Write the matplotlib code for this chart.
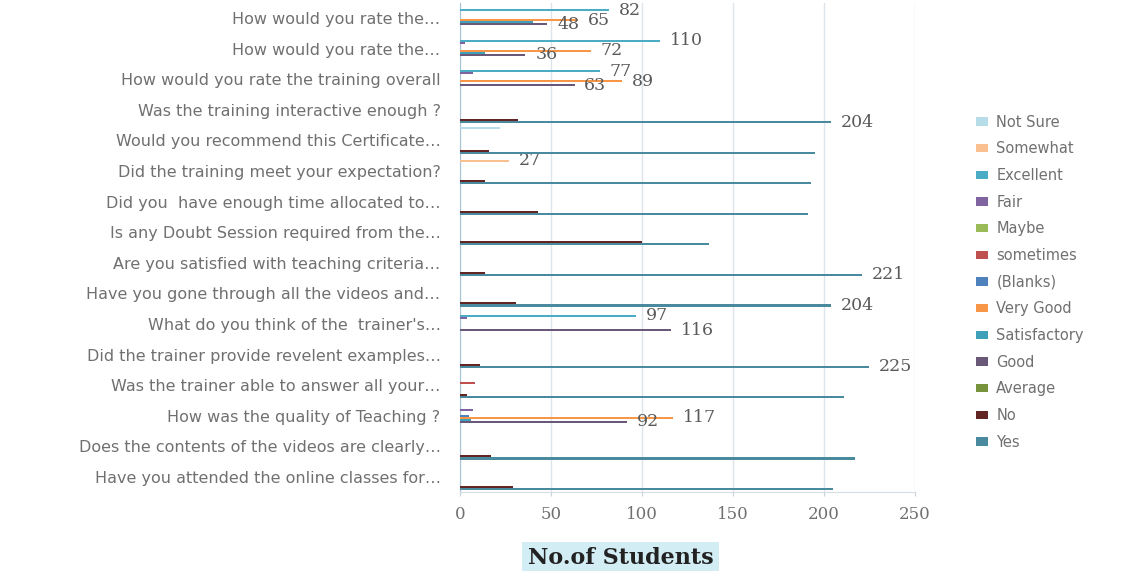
import matplotlib.pyplot as plt
import numpy as np

# questions, top to bottom as in the survey chart
questions = [
    "How would you rate the\u2026",
    "How would you rate the\u2026",
    "How would you rate the training overall",
    "Was the training interactive enough ?",
    "Would you recommend this Certificate\u2026",
    "Did the training meet your expectation?",
    "Did you  have enough time allocated to\u2026",
    "Is any Doubt Session required from the\u2026",
    "Are you satisfied with teaching criteria\u2026",
    "Have you gone through all the videos and\u2026",
    "What do you think of the  trainer's\u2026",
    "Did the trainer provide revelent examples\u2026",
    "Was the trainer able to answer all your\u2026",
    "How was the quality of Teaching ?",
    "Does the contents of the videos are clearly\u2026",
    "Have you attended the online classes for\u2026",
]

# answer counts per series (same order as questions)
not_sure     = [0, 0, 0, 0, 22, 0, 0, 0, 0, 0, 0, 0, 0, 0, 0, 0]
somewhat     = [0, 0, 0, 0, 0, 27, 0, 0, 0, 0, 0, 0, 0, 0, 0, 0]
excellent    = [82, 110, 77, 0, 0, 0, 0, 0, 0, 0, 97, 0, 0, 0, 0, 0]
fair         = [0, 3, 7, 0, 0, 0, 0, 0, 0, 0, 4, 0, 0, 7, 0, 0]
maybe        = [0, 0, 0, 0, 0, 0, 0, 0, 0, 0, 0, 0, 0, 0, 0, 0]
sometimes    = [0, 0, 0, 0, 0, 0, 0, 0, 0, 0, 0, 0, 8, 0, 0, 0]
blanks       = [0, 0, 0, 0, 0, 0, 0, 0, 0, 0, 0, 0, 0, 5, 0, 0]
very_good    = [65, 72, 89, 0, 0, 0, 0, 0, 0, 0, 0, 0, 0, 117, 0, 0]
satisfactory = [40, 14, 0, 0, 0, 0, 0, 0, 0, 0, 0, 0, 0, 6, 0, 0]
good         = [48, 36, 63, 0, 0, 0, 0, 0, 0, 0, 116, 0, 0, 92, 0, 0]
average      = [0, 0, 0, 0, 0, 0, 0, 0, 0, 0, 0, 0, 0, 0, 0, 0]
no           = [0, 0, 0, 32, 16, 14, 43, 100, 14, 31, 0, 11, 4, 0, 17, 29]
yes          = [0, 0, 0, 204, 195, 193, 191, 137, 221, 204, 0, 225, 211, 0, 217, 205]

series_names = ["Not Sure", "Somewhat", "Excellent", "Fair", "Maybe", "sometimes",
                "(Blanks)", "Very Good", "Satisfactory", "Good", "Average", "No", "Yes"]
series_vals = [not_sure, somewhat, excellent, fair, maybe, sometimes,
               blanks, very_good, satisfactory, good, average, no, yes]
colors = ["#b7dee8", "#fac090", "#4bacc6", "#8064a2", "#9bbb59", "#c0504d",
          "#4f81bd", "#f79646", "#3fa0ba", "#6a5878", "#77933c", "#632523", "#4a8a9e"]

# which bars carry a data label (series -> question indexes)
labelled = {"Excellent": [0, 1, 2, 10], "Very Good": [0, 1, 2, 13],
            "Good": [0, 1, 2, 10, 13], "Somewhat": [5], "Yes": [3, 8, 9, 11]}

fig = plt.figure(figsize=(11.26, 5.71), dpi=100)
ax = fig.add_axes([0.4085, 0.138, 0.404, 0.857])

y = np.arange(len(questions))
slot = 0.86 / len(series_names)
for k, (name, vals, c) in enumerate(zip(series_names, series_vals, colors)):
    pos = y + (k - (len(series_names) - 1) / 2) * slot
    ax.barh(pos, vals, height=slot * 1.05, color=c, label=name, zorder=3)
    for i in labelled.get(name, []):
        ax.annotate(str(vals[i]), (vals[i], pos[i]), xytext=(7, 0),
                    textcoords="offset points", va="center", ha="left",
                    fontsize=12.5, family="DejaVu Serif", color="#5a5a5a")

ax.set_ylim(len(questions) - 0.5, -0.5)
ax.set_xlim(0, 250)
ax.set_xticks([0, 50, 100, 150, 200, 250])
ax.set_yticks(y)
ax.set_yticklabels(questions, fontsize=11.5, color="#707070")
ax.tick_params(axis="y", length=0, pad=14)
ax.tick_params(axis="x", length=3, color="#c8d0d8", pad=7, labelsize=12,
               labelcolor="#707070")
for lab in ax.get_xticklabels():
    lab.set_family("DejaVu Serif")

ax.grid(axis="x", color="#dde4ea", linewidth=1, zorder=0)
for s in ["top", "right"]:
    ax.spines[s].set_visible(False)
ax.spines["left"].set_color("#a9c4d6")
ax.spines["bottom"].set_color("#d5dce3")

fig.legend(loc="upper left", bbox_to_anchor=(0.855, 0.822), frameon=False,
           fontsize=10.5, labelcolor="#707070", labelspacing=0.8,
           handlelength=0.8, handleheight=0.5, handletextpad=0.6)

fig.text(0.551, 0.022, "No.of Students", ha="center", va="center",
         fontsize=16, fontweight="bold", family="DejaVu Serif", color="#222222",
         bbox=dict(facecolor="#d3edf4", edgecolor="none", pad=4))

fig.savefig("out.png", dpi=100)
